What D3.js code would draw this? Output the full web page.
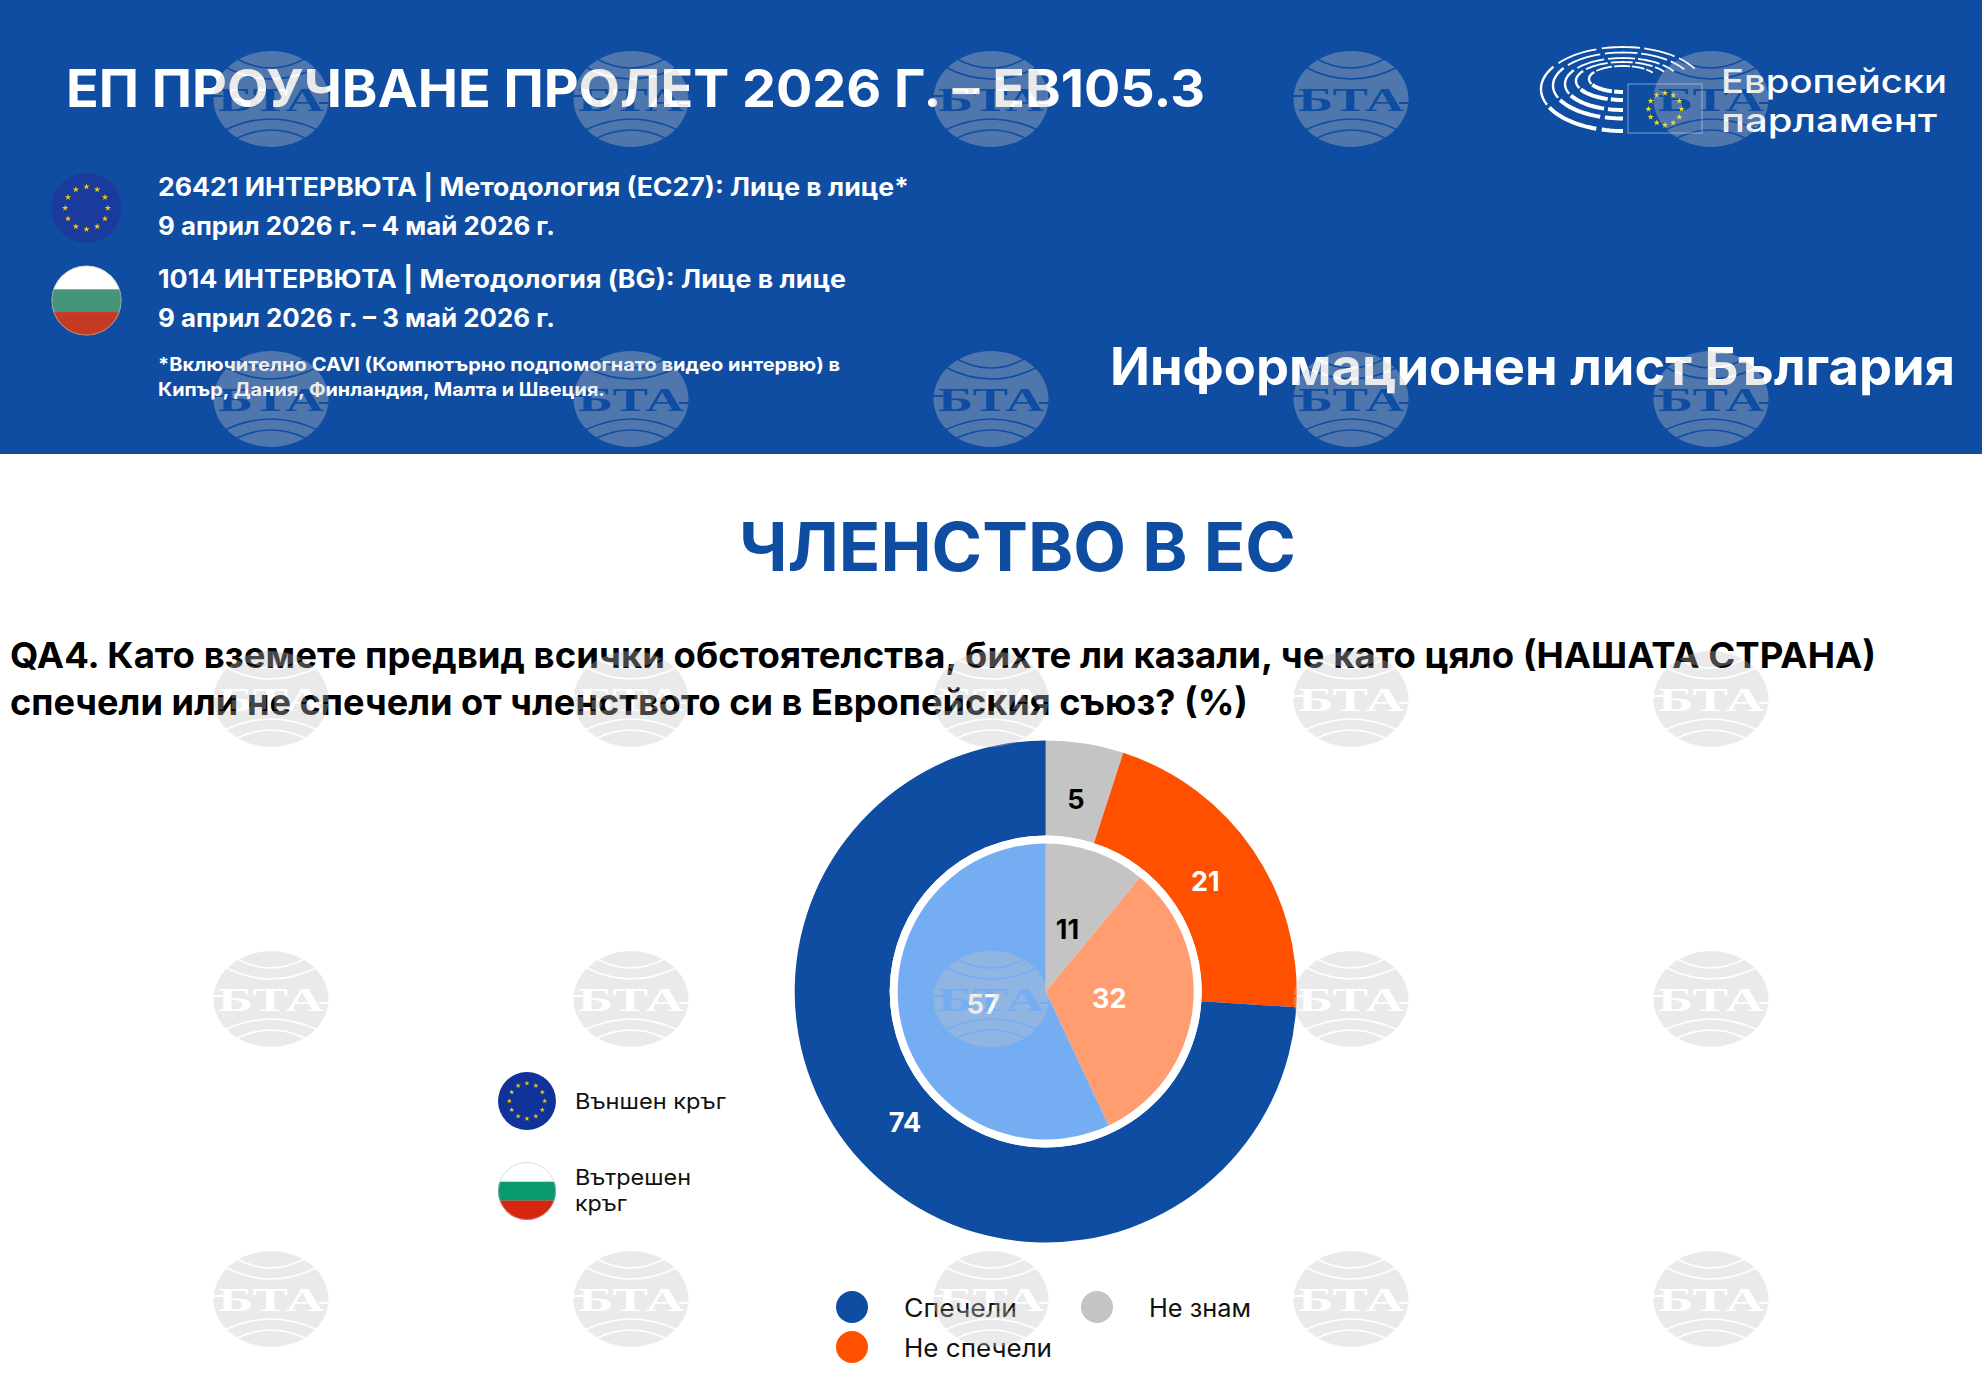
<!DOCTYPE html>
<html lang="bg">
<head>
<meta charset="utf-8">
<title>ЧЛЕНСТВО В ЕС</title>
<style>
  html, body { margin: 0; padding: 0; background: #fff; }
  svg { display: block; }
  text { font-family: "Inter", "Noto Sans", sans-serif; }
</style>
<script src="https://cdn.jsdelivr.net/npm/d3@7"></script>
</head>
<body></body>
<script>

// ---- data ----
var categories = ["Не знам", "Не спечели", "Спечели"];
var outerValues = [5, 21, 74];   // EC27
var innerValues = [11, 32, 57];  // BG

var legendNames = ["Спечели", "Не спечели", "Не знам"];
var ringNames = ["Външен кръг", "Вътрешен", "кръг"];

var titleText = "ЕП ПРОУЧВАНЕ ПРОЛЕТ 2026 Г. – EB105.3";
var sheetText = "Информационен лист България";
var logoLines = ["Европейски", "парламент"];
var infoLines = [
  "26421 ИНТЕРВЮТА | Методология (ЕС27): Лице в лице*",
  "9 април 2026 г. – 4 май 2026 г.",
  "1014 ИНТЕРВЮТА | Методология (BG): Лице в лице",
  "9 април 2026 г. – 3 май 2026 г."
];
var noteLines = [
  "*Включително CAVI (Компютърно подпомогнато видео интервю) в",
  "Кипър, Дания, Финландия, Малта и Швеция."
];
var headingText = "ЧЛЕНСТВО В ЕС";
var questionLines = [
  "QA4. Като вземете предвид всички обстоятелства, бихте ли казали, че като цяло (НАШАТА СТРАНА)",
  "спечели или не спечели от членството си в Европейския съюз? (%)"
];

var stampColumns = [271, 631, 991, 1351, 1711];
var stampRows = [99, 399, 699, 999, 1299];

// ---- page ----
var width = 1982, height = 1398;
var blue = "#0f4da2";

var outerColor = d3.scaleOrdinal().domain(categories).range(["#c4c4c4", "#ff5000", blue]);
var innerColor = d3.scaleOrdinal().domain(categories).range(["#c4c4c4", "#ff9c70", "#75adf2"]);
var labelColor = d3.scaleOrdinal().domain(categories).range(["#000", "#fff", "#fff"]);

var svg = d3.select("body").append("svg")
    .attr("width", width)
    .attr("height", height)
    .attr("viewBox", [0, 0, width, height]);

var defs = svg.append("defs");

svg.append("rect").attr("width", width).attr("height", height).attr("fill", "#fff");
svg.append("rect").attr("width", width).attr("height", 454).attr("fill", blue);

// squeezes a line into the width it has in the picture
function putText(parent, str, x, y, w, size, weight, fill) {
  return parent.append("text")
      .attr("x", x)
      .attr("y", y)
      .attr("font-size", size)
      .attr("font-weight", weight)
      .attr("fill", fill)
      .attr("textLength", w)
      .attr("lengthAdjust", "spacingAndGlyphs")
      .text(str);
}

// ---- flags ----
function euFlag(cx, cy, r, fill) {
  var g = svg.append("g").attr("transform", "translate(" + cx + "," + cy + ")");
  g.append("circle").attr("r", r).attr("fill", fill);
  var star = d3.symbol().type(d3.symbolStar).size(r * r * 0.010);
  g.selectAll("path").data(d3.range(12)).join("path")
      .attr("d", star)
      .attr("fill", "#f2c811")
      .attr("transform", function(i) {
        var a = i * Math.PI / 6;
        return "translate(" + (Math.sin(a) * r * 0.61) + "," + (-Math.cos(a) * r * 0.61) + ")";
      });
}

function bgFlag(id, cx, cy, r, green, red) {
  defs.append("clipPath").attr("id", id)
    .append("circle").attr("cx", cx).attr("cy", cy).attr("r", r);
  var g = svg.append("g").attr("clip-path", "url(#" + id + ")");
  var band = r * 2 / 3.05;
  g.append("rect").attr("x", cx - r).attr("y", cy - r).attr("width", r * 2).attr("height", r * 2).attr("fill", "#fff");
  g.append("rect").attr("x", cx - r).attr("y", cy - r * 0.32).attr("width", r * 2).attr("height", band).attr("fill", green);
  g.append("rect").attr("x", cx - r).attr("y", cy + r * 0.33).attr("width", r * 2).attr("height", r).attr("fill", red);
  svg.append("circle").attr("cx", cx).attr("cy", cy).attr("r", r - 0.5)
      .attr("fill", "none").attr("stroke", "#bbb").attr("stroke-width", 1).attr("stroke-opacity", 0.5);
}

euFlag(86.5, 208, 35, "#1a3b9b");
bgFlag("bgTop", 86.5, 300.5, 35, "#46957a", "#c43a22");
euFlag(527, 1101, 29, "#10339a");
bgFlag("bgLegend", 527, 1191, 29, "#0a9a70", "#d62612");

// ---- header text ----
putText(svg, titleText, 66, 107, 1139, 52, 700, "#fff");
putText(svg, infoLines[0], 158, 196, 751, 25, 700, "#fff");
putText(svg, infoLines[1], 158, 235, 397, 25, 700, "#fff");
putText(svg, infoLines[2], 158, 288, 688, 25, 700, "#fff");
putText(svg, infoLines[3], 158, 327, 397, 25, 700, "#fff");
putText(svg, noteLines[0], 158, 371, 682, 18.5, 700, "#fff");
putText(svg, noteLines[1], 158, 396, 447, 18.5, 700, "#fff");
putText(svg, sheetText, 1110, 385, 845, 52, 700, "#fff");

// ---- European Parliament logo ----
// rings as [rx, ry, cy], seat blocks as angle spans from the top of the ring
var logoRings = [[82, 42, 89], [70, 33, 85.5], [58, 26, 84], [47, 19, 81], [34, 13, 79]];
var logoBlocks = [[-180, -165], [-161, -116], [-112, -58], [-52, -19], [-15, 12], [15, 40], [43, 62]];
var logo = svg.append("g").attr("fill", "none").attr("stroke", "#fff");
logoRings.forEach(function(ring) {
  logoBlocks.forEach(function(b) {
    var pts = d3.range(b[0], b[1] + 1, 3).map(function(deg) {
      var a = deg * Math.PI / 180;
      return [1623 + Math.sin(a) * ring[0], ring[2] - Math.cos(a) * ring[1]];
    });
    logo.append("path")
        .attr("d", d3.line()(pts))
        .attr("stroke-width", b[1] <= -116 ? 4 : (b[0] >= -52 ? 1.8 : 2.4));
  });
});
svg.append("rect").attr("x", 1628).attr("y", 84).attr("width", 74).attr("height", 49)
    .attr("fill", blue).attr("stroke", "#7f9fcb").attr("stroke-width", 1);
var logoStars = svg.append("g").attr("transform", "translate(1665,109)");
logoStars.selectAll("path").data(d3.range(12)).join("path")
    .attr("d", d3.symbol().type(d3.symbolStar).size(12))
    .attr("fill", "#f4e01c")
    .attr("transform", function(i) {
      var a = i * Math.PI / 6;
      return "translate(" + (Math.sin(a) * 16.5) + "," + (-Math.cos(a) * 16) + ")";
    });
putText(svg, logoLines[0], 1721, 93, 226, 33, 500, "#fff");
putText(svg, logoLines[1], 1721, 132, 216, 33, 500, "#fff");

// ---- heading and question ----
putText(svg, headingText, 739, 571, 557, 67, 700, blue);
putText(svg, questionLines[0], 10, 668, 1866, 36, 700, "#000");
putText(svg, questionLines[1], 10, 715, 1238, 36, 700, "#000");

// ---- donut ----
var cx = 1045.7, cy = 991.5;
var chart = svg.append("g").attr("transform", "translate(" + cx + "," + cy + ")");
var pie = d3.pie().sort(null);

function ring(values, color, innerR, outerR, labelR) {
  var arcs = pie(values);
  var arcPath = d3.arc().innerRadius(innerR).outerRadius(outerR);
  var labelArc = d3.arc().innerRadius(labelR).outerRadius(labelR);
  chart.append("g").selectAll("path").data(arcs).join("path")
      .attr("d", arcPath)
      .attr("fill", function(d, i) { return color(categories[i]); });
  chart.append("g").selectAll("text").data(arcs).join("text")
      .attr("transform", function(d) { return "translate(" + labelArc.centroid(d) + ")"; })
      .attr("text-anchor", "middle")
      .attr("dy", "0.30em")
      .attr("font-size", 27)
      .attr("font-weight", 700)
      .attr("fill", function(d, i) { return labelColor(categories[i]); })
      .text(function(d) { return d.data; });
}

ring(outerValues, outerColor, 156, 251, 193);
chart.append("circle").attr("r", 156).attr("fill", "#fff");
ring(innerValues, innerColor, 0, 148, 64);

// ---- legends ----
var legendPos = d3.scaleOrdinal().domain(legendNames).range([[852, 1307, 113], [852, 1347, 148], [1097, 1307, 102]]);
var legend = svg.append("g").selectAll("g").data(legendNames).join("g");
legend.append("circle")
    .attr("cx", function(d) { return legendPos(d)[0]; })
    .attr("cy", function(d) { return legendPos(d)[1]; })
    .attr("r", 16)
    .attr("fill", function(d) { return outerColor(d); });
legend.append("text")
    .attr("x", function(d) { return legendPos(d)[0] + 52; })
    .attr("y", function(d) { return legendPos(d)[1] + 10; })
    .attr("font-size", 25)
    .attr("fill", "#111")
    .attr("textLength", function(d) { return legendPos(d)[2]; })
    .attr("lengthAdjust", "spacingAndGlyphs")
    .text(function(d) { return d; });

putText(svg, ringNames[0], 575, 1109, 151, 22, 400, "#111");
putText(svg, ringNames[1], 575, 1185, 116, 22, 400, "#111");
putText(svg, ringNames[2], 575, 1211, 52, 22, 400, "#111");

// ---- BTA stamp over everything ----
var mask = defs.append("mask").attr("id", "btaMask")
    .attr("maskUnits", "userSpaceOnUse")
    .attr("x", -60).attr("y", -50).attr("width", 120).attr("height", 100);
mask.append("ellipse").attr("rx", 57.5).attr("ry", 48).attr("fill", "#fff");
["M-36,-41Q0,-21 35,-41", "M-46,-32Q0,-8 47,-32", "M-46,31Q0,9 47,31", "M-34,39Q0,23 34,39"].forEach(function(p) {
  mask.append("path").attr("d", p).attr("fill", "none").attr("stroke", "#000").attr("stroke-width", 1.6);
});
mask.append("text")
    .attr("x", -53).attr("y", 12)
    .attr("font-size", 34)
    .attr("font-weight", 700)
    .attr("fill", "#000")
    .attr("textLength", 106)
    .attr("lengthAdjust", "spacingAndGlyphs")
    .style("font-family", "'Liberation Serif', serif")
    .text("БТА");
mask.append("rect").attr("x", -60).attr("y", -4).attr("width", 12).attr("height", 2).attr("fill", "#000");
mask.append("rect").attr("x", 48).attr("y", 3).attr("width", 12).attr("height", 2).attr("fill", "#000");

var stamps = svg.append("g").attr("pointer-events", "none");
stampRows.forEach(function(y) {
  stampColumns.forEach(function(x) {
    stamps.append("g")
        .attr("transform", "translate(" + x + "," + y + ")")
      .append("rect")
        .attr("x", -60).attr("y", -50).attr("width", 120).attr("height", 100)
        .attr("fill", "#c6c6c6")
        .attr("opacity", 0.35)
        .attr("mask", "url(#btaMask)");
  });
});

</script>
</html>
